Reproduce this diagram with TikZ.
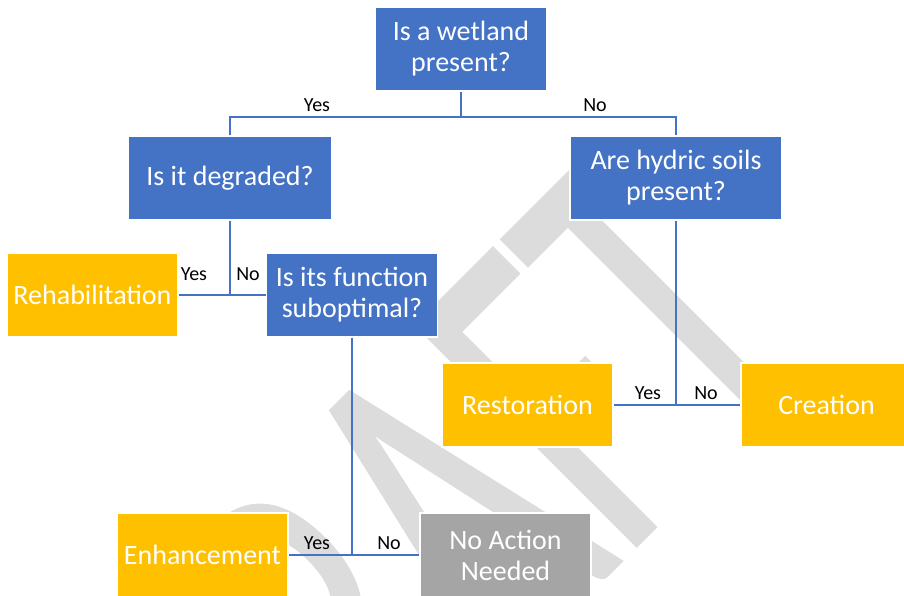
\documentclass[tikz,border=0pt]{standalone}
\usepackage{fontspec}
\setmainfont{Carlito}
\newfontfamily\wmfont[FakeBold=0.8]{Carlito}
\definecolor{qblue}{HTML}{4472C4}
\definecolor{agold}{HTML}{FFC000}
\definecolor{agray}{HTML}{A5A5A5}
\definecolor{wmgray}{RGB}{220,220,220}
\tikzset{
  box/.style={rectangle, minimum width=171pt, minimum height=84pt, inner sep=0pt,
    draw=white, line width=1.2pt, text=white, align=center,
    font=\fontsize{28}{31}\selectfont},
  qbox/.style={box, fill=qblue},
  abox/.style={box, fill=agold},
  nbox/.style={box, fill=agray},
  conn/.style={draw=qblue, line width=2pt},
  lbl/.style={font=\fontsize{20}{24}\selectfont, text=black, inner sep=0pt, anchor=base},
  wmark/.style={anchor=base west, inner sep=0pt, text=wmgray, transform shape,
    font=\wmfont\fontsize{485}{485}\selectfont}
}
\begin{document}
\begin{tikzpicture}[x=1pt,y=-1pt]
\useasboundingbox (0,0) rectangle (904,596);
\clip (0,0) rectangle (904,596);
\fill[white] (0,0) rectangle (904,596);
% watermark
\begin{scope}[shift={(442,310)}, rotate=45]
  \node[wmark] (wm) at (-572,304) {\scalebox{0.62}[1]{DRAFT}};
\end{scope}
% boxes
\node[qbox] (q1) at (461,49) {Is a wetland\\present?};
\node[qbox, minimum width=204pt] (q2) at (230,178) {Is it degraded?};
\node[qbox, minimum width=212pt] (q3) at (676,178) {Are hydric soils\\present?};
\node[abox] (rehab) at (92.5,295) {Rehabilitation};
\node[qbox] (q4) at (352,295) {Is its function\\suboptimal?};
\node[abox] (rest) at (527.5,405) {Restoration};
\node[abox] (creat) at (826.5,405) {Creation};
\node[abox] (enh) at (202.5,555) {Enhancement};
\node[nbox] (noact) at (505.5,555) {No Action\\Needed};
% connectors
\coordinate (j1) at (461,117);
\draw[conn] (q1.south) -- (j1);
\draw[conn] (q2.north) |- (j1) -| (q3.north);
\draw[conn] (rehab.east) -- (q4.west);
\draw[conn] (q2.south) -- (q2.south |- rehab.east);
\draw[conn] (rest.east) -- (creat.west);
\draw[conn] (q3.south) -- (q3.south |- rest.east);
\draw[conn] (enh.east) -- (noact.west);
\draw[conn] (q4.south) -- (q4.south |- enh.east);
% labels
\node[lbl] (l1) at (317,112) {Yes};
\node[lbl] (l2) at (595,112) {No};
\node[lbl] (l3) at (194,280) {Yes};
\node[lbl] (l4) at (248,280) {No};
\node[lbl] (l5) at (648,399) {Yes};
\node[lbl] (l6) at (706,399) {No};
\node[lbl] (l7) at (317,549) {Yes};
\node[lbl] (l8) at (389,549) {No};
\end{tikzpicture}
\end{document}
